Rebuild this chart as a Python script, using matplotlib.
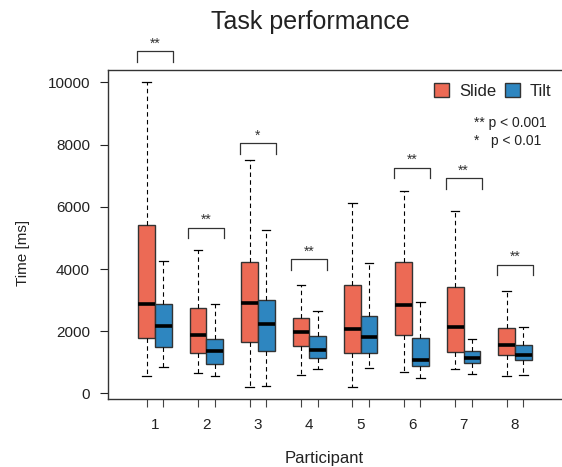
import numpy as np
import matplotlib
matplotlib.use("Agg")
import matplotlib.pyplot as plt
from matplotlib.patches import Patch

plt.rcParams['font.family'] = ['Liberation Sans', 'DejaVu Sans']

participants = [1, 2, 3, 4, 5, 6, 7, 8]

# whisker low, q1, median, q3, whisker high  (ms)
slide_lo = [550, 650, 200, 600, 220, 690, 770, 570]
slide_q1 = [1780, 1310, 1650, 1520, 1310, 1880, 1330, 1240]
slide_med = [2880, 1880, 2900, 1980, 2070, 2840, 2150, 1570]
slide_q3 = [5430, 2750, 4220, 2420, 3500, 4210, 3430, 2100]
slide_hi = [10000, 4620, 7490, 3500, 6130, 6520, 5880, 3290]

tilt_lo = [840, 570, 250, 770, 810, 480, 620, 600]
tilt_q1 = [1490, 950, 1370, 1150, 1310, 880, 990, 1080]
tilt_med = [2180, 1370, 2240, 1390, 1800, 1090, 1140, 1250]
tilt_q3 = [2890, 1760, 3010, 1830, 2500, 1780, 1360, 1560]
tilt_hi = [4250, 2870, 5270, 2640, 4200, 2950, 1750, 2130]

# significance brackets
sig_part = [1, 2, 3, 4, 6, 7, 8]
sig_top = [11010, 5330, 8050, 4320, 7260, 6920, 4140]
sig_star = ['**', '**', '*', '**', '**', '**', '**']

slide_col = '#EC6A55'
tilt_col = '#2E86C0'
off = 0.1625
bw = 0.325


def make_stats(lo, q1, med, q3, hi):
    return [dict(whislo=a, q1=b, med=c, q3=d, whishi=e, fliers=[])
            for a, b, c, d, e in zip(lo, q1, med, q3, hi)]


fig = plt.figure(figsize=(5.62, 4.67), dpi=100)
ax = fig.add_axes([108/562, 1-399/467, 454/562, 329/467])

common = dict(widths=bw, patch_artist=True, showfliers=False,
              whiskerprops=dict(color='black', lw=0.8, linestyle=(0, (4, 3))),
              capprops=dict(color='black', lw=0.9),
              medianprops=dict(color='black', lw=2.6, solid_capstyle='butt'),
              capwidths=bw*0.5)

x = np.array(participants)
ax.bxp(make_stats(slide_lo, slide_q1, slide_med, slide_q3, slide_hi),
       positions=x - off, boxprops=dict(facecolor=slide_col, edgecolor='#333333', lw=1.0),
       **common)
ax.bxp(make_stats(tilt_lo, tilt_q1, tilt_med, tilt_q3, tilt_hi),
       positions=x + off, boxprops=dict(facecolor=tilt_col, edgecolor='#333333', lw=1.0),
       **common)

drop = 340
for p, top, s in zip(sig_part, sig_top, sig_star):
    ax.plot([p - 0.35, p - 0.35, p + 0.35, p + 0.35],
            [top - drop, top, top, top - drop],
            color='#333333', lw=0.9, clip_on=False)
    ax.text(p, top + 20, s, ha='center', va='bottom', fontsize=10,
            color='#333333', clip_on=False)

ax.set_xlim(0.086, 8.914)
ax.set_ylim(-180, 10400)

ax.set_yticks(np.arange(0, 10001, 2000))
ax.tick_params(axis='y', length=6, width=0.8, pad=7, labelsize=11,
               colors='#222222')
ax.set_xticks(np.sort(np.concatenate([x - off, x + off])))
ax.set_xticklabels([])
ax.set_xticks(x, minor=True)
ax.set_xticklabels([str(p) for p in participants], minor=True)
ax.tick_params(axis='x', which='major', length=6, width=0.8, colors='#444444')
ax.tick_params(axis='x', which='minor', length=0, pad=14, labelsize=11,
               labelcolor='#222222')

for sp in ['left', 'bottom', 'top']:
    ax.spines[sp].set_color('#333333')
    ax.spines[sp].set_linewidth(1.0)
ax.spines['right'].set_visible(False)

handles = [Patch(facecolor=slide_col, edgecolor='#333333', label='Slide'),
           Patch(facecolor=tilt_col, edgecolor='#333333', label='Tilt')]
ax.legend(handles=handles, loc='upper right', bbox_to_anchor=(1.01, 1.005),
          ncol=2, frameon=False, fontsize=12, handlelength=0.9,
          handleheight=0.9, handletextpad=0.6, columnspacing=0.5,
          labelcolor='#222222')

ax.text(0.807, 0.84, '** p < 0.001', transform=ax.transAxes, fontsize=10,
        color='#222222', va='center')
ax.text(0.807, 0.785, '*   p < 0.01', transform=ax.transAxes, fontsize=10,
        color='#222222', va='center')

fig.text(310/562, 1-22/467, 'Task performance', ha='center', va='center',
         fontsize=18, color='#222222')
fig.text(324/562, 1-459/467, 'Participant', ha='center', va='center',
         fontsize=12, color='#222222')
fig.text(23/562, 1-253/467, 'Time [ms]', ha='center', va='center',
         rotation=90, fontsize=11, color='#222222')

fig.savefig('out.png', dpi=100)
